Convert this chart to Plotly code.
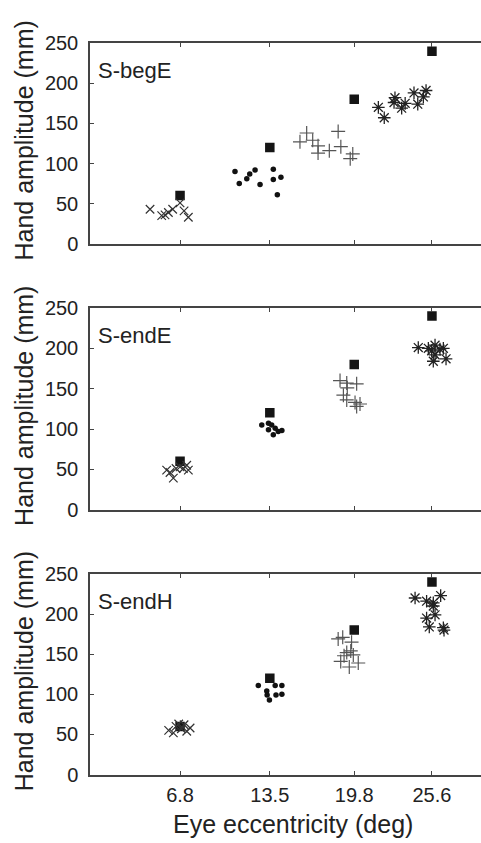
import plotly.graph_objects as go

W, H = 481, 843

# ---- data ----
ticks_ecc = [6.8, 13.5, 19.8, 25.6]
target_ecc = [6.8, 13.5, 19.8, 25.6]
target_amp = [60, 120, 180, 240]
panel_labels = ["S-begE", "S-endE", "S-endH"]

# Panel 1 (S-begE)
p1_x_ecc = [4.56, 5.43, 5.68, 5.93, 6.25, 6.8, 7.1, 7.42]
p1_x_amp = [43, 35, 36, 39, 43, 51, 41, 33]
p1_dot_ecc = [10.9, 11.22, 11.78, 12.0, 12.4, 12.77, 13.76, 13.76, 14.33, 14.06]
p1_dot_amp = [90, 75, 81, 87, 92, 74, 93, 80, 83, 61]
p1_plus_ecc = [15.75, 16.25, 16.7, 17.1, 17.1, 17.94, 18.6, 18.8, 19.5, 19.69]
p1_plus_amp = [127, 138, 129, 122, 113, 116, 140, 121, 106, 112]
p1_ast_ecc = [21.6, 22.04, 22.84, 22.77, 23.34, 23.6, 24.26, 24.54, 24.96, 25.16]
p1_ast_amp = [170, 157, 182, 176, 169, 175, 188, 174, 183, 191]

# Panel 2 (S-endE)
p2_x_ecc = [5.8, 6.05, 6.3, 6.5, 6.8, 7.05, 7.3, 7.42]
p2_x_amp = [49, 46, 39, 51, 53, 51, 55, 49]
p2_dot_ecc = [12.9, 13.4, 13.4, 13.64, 13.76, 13.9, 14.13, 14.4]
p2_dot_amp = [105, 107, 99, 105, 93, 101, 97, 98]
p2_plus_ecc = [18.74, 19.24, 19.28, 19.98, 18.99, 19.24, 19.86, 20.23, 19.98]
p2_plus_amp = [160, 157, 151, 156, 142, 136, 133, 131, 128]
p2_ast_ecc = [24.58, 25.33, 25.83, 26.2, 26.45, 25.58, 25.83, 25.7, 26.65]
p2_ast_amp = [201, 200, 204, 199, 200, 197, 192, 184, 187]

# Panel 3 (S-endH)
p3_x_ecc = [5.95, 6.3, 6.5, 6.7, 6.9, 7.1, 7.3, 7.55]
p3_x_amp = [55, 52, 60, 63, 57, 62, 54, 58]
p3_dot_ecc = [12.64, 13.27, 13.3, 13.47, 13.9, 14.4, 13.96, 14.4]
p3_dot_amp = [111, 104, 99, 93, 111, 111, 99, 100]
p3_plus_ecc = [18.6, 18.94, 19.6, 19.24, 19.54, 19.73, 18.79, 20.1, 19.43, 19.04]
p3_plus_amp = [169, 171, 165, 152, 154, 149, 141, 139, 134, 148]
p3_ast_ecc = [24.34, 25.2, 25.7, 26.25, 25.7, 25.83, 25.2, 25.4, 26.45, 26.5]
p3_ast_amp = [220, 216, 214, 223, 210, 199, 195, 184, 183, 180]

panels = [
    (p1_x_ecc, p1_x_amp, p1_dot_ecc, p1_dot_amp, p1_plus_ecc, p1_plus_amp, p1_ast_ecc, p1_ast_amp),
    (p2_x_ecc, p2_x_amp, p2_dot_ecc, p2_dot_amp, p2_plus_ecc, p2_plus_amp, p2_ast_ecc, p2_ast_amp),
    (p3_x_ecc, p3_x_amp, p3_dot_ecc, p3_dot_amp, p3_plus_ecc, p3_plus_amp, p3_ast_ecc, p3_ast_amp),
]

# ---- layout geometry (pixels) ----
x_left_px = 90
panel_px = [(33, 239), (305, 512), (578, 784)]
FONT = "Liberation Sans, Arial, sans-serif"

fig = go.Figure()

for i, (xe, xa, de, da, pe, pa, ae, aa) in enumerate(panels):
    n = "" if i == 0 else str(i + 1)
    xr, yr = "x" + n, "y" + n
    fig.add_trace(go.Scatter(x=target_ecc, y=target_amp, mode="markers", xaxis=xr, yaxis=yr,
                             marker=dict(symbol="square", size=9.5, color="#151515")))
    fig.add_trace(go.Scatter(x=xe, y=xa, mode="markers", xaxis=xr, yaxis=yr,
                             marker=dict(symbol="x-thin", size=8.5, line=dict(color="#333", width=1.2))))
    fig.add_trace(go.Scatter(x=de, y=da, mode="markers", xaxis=xr, yaxis=yr,
                             marker=dict(symbol="circle", size=5.5, color="#111")))
    fig.add_trace(go.Scatter(x=pe, y=pa, mode="markers", xaxis=xr, yaxis=yr,
                             marker=dict(symbol="cross-thin", size=10, line=dict(color="#555", width=1.2))))
    fig.add_trace(go.Scatter(x=ae, y=aa, mode="markers", xaxis=xr, yaxis=yr,
                             marker=dict(symbol="asterisk", size=10.5, line=dict(color="#222", width=1.3))))

    top, bot = panel_px[i]
    ydom = [1 - bot / H, 1 - top / H]
    xaxis = dict(domain=[x_left_px / W, 1], range=[0.08, 29.26], tickvals=ticks_ecc,
                 ticktext=[str(t) for t in ticks_ecc] if i == 2 else ["" for _ in ticks_ecc],
                 ticks="inside", ticklen=4, tickcolor="#444", showline=True, linecolor="#444",
                 linewidth=1.5, mirror="ticks", showgrid=False, zeroline=False, anchor=yr,
                 tickfont=dict(family=FONT, size=20, color="#222"), ticklabelstandoff=2)
    yaxis = dict(domain=ydom, range=[0, 250], tickvals=[0, 50, 100, 150, 200, 250],
                 ticks="inside", ticklen=4, tickcolor="#444", showline=True, linecolor="#444",
                 linewidth=1.5, mirror=False, showgrid=False, zeroline=False, anchor=xr,
                 tickfont=dict(family=FONT, size=20, color="#222"), ticklabelstandoff=6)
    fig.layout["xaxis" + n] = xaxis
    fig.layout["yaxis" + n] = yaxis

    fig.add_annotation(text="Hand amplitude (mm)", textangle=-90, xref="paper", yref="paper",
                       x=24 / W, y=1 - ((top + bot) / 2 - 3) / H, xanchor="center", yanchor="middle",
                       showarrow=False, font=dict(family=FONT, size=25, color="#222"))
    fig.add_annotation(text=panel_labels[i], xref="paper", yref="paper",
                       x=96 / W, y=1 - (top + 28) / H, xanchor="left", yanchor="middle",
                       showarrow=False, font=dict(family=FONT, size=22, color="#222"))

fig.add_annotation(text="Eye eccentricity (deg)", xref="paper", yref="paper",
                   x=(170 + 415) / 2 / W, y=1 - 835 / H, xanchor="center", yanchor="middle",
                   showarrow=False, font=dict(family=FONT, size=25, color="#222"))

fig.update_layout(width=W, height=H, margin=dict(l=0, r=0, t=0, b=0),
                  paper_bgcolor="white", plot_bgcolor="white", showlegend=False)

fig.write_html("out.html")
